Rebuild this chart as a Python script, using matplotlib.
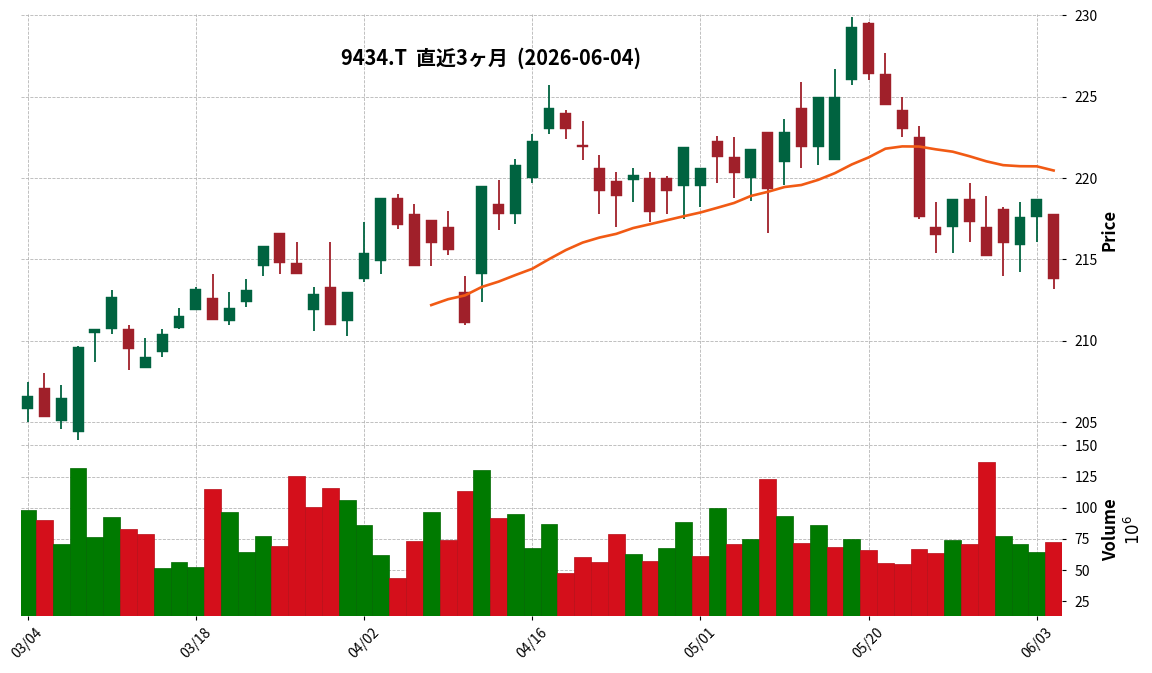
import numpy as np
import pandas as pd
import matplotlib
matplotlib.use('Agg')
import matplotlib.pyplot as plt
import warnings
warnings.filterwarnings('ignore')

plt.rcParams['font.family'] = ['Noto Sans CJK JP', 'DejaVu Sans']

# trading days (2026-03-04 .. 2026-06-04)
dates = ['03/04', '03/05', '03/06', '03/09', '03/10', '03/11', '03/12', '03/13', '03/16', '03/17',
         '03/18', '03/19', '03/23', '03/24', '03/25', '03/26', '03/27', '03/30', '03/31', '04/01',
         '04/02', '04/03', '04/06', '04/07', '04/08', '04/09', '04/10', '04/13', '04/14', '04/15',
         '04/16', '04/17', '04/20', '04/21', '04/22', '04/23', '04/24', '04/27', '04/28', '04/30',
         '05/01', '05/07', '05/08', '05/11', '05/12', '05/13', '05/14', '05/15', '05/18', '05/19',
         '05/20', '05/21', '05/22', '05/25', '05/26', '05/27', '05/28', '05/29', '06/01', '06/02',
         '06/03', '06/04']

opens = [205.8, 207.1, 205.1, 204.4, 210.5, 210.7, 210.7, 208.3, 209.3, 210.8,
         211.9, 212.6, 211.2, 212.4, 214.6, 216.6, 214.8, 211.9, 213.3, 211.2,
         213.8, 214.9, 218.8, 217.8, 217.4, 217.0, 213.0, 214.1, 218.4, 217.8,
         220.0, 223.0, 224.0, 222.0, 220.6, 219.8, 219.9, 220.0, 220.0, 219.5,
         219.5, 222.3, 221.3, 220.0, 222.8, 221.0, 224.3, 221.9, 221.1, 226.0,
         229.5, 226.4, 224.2, 222.5, 217.0, 217.0, 218.7, 217.0, 218.1, 215.9,
         217.6, 217.8]
highs = [207.5, 208.0, 207.3, 209.7, 210.7, 213.1, 211.0, 210.2, 210.7, 212.0,
         213.3, 214.1, 213.0, 213.8, 215.8, 216.6, 216.1, 213.3, 216.1, 213.0,
         217.3, 218.8, 219.0, 218.4, 217.4, 218.0, 214.0, 219.5, 219.9, 221.2,
         222.7, 225.7, 224.2, 223.5, 221.4, 220.4, 220.6, 220.4, 220.1, 221.9,
         220.6, 222.6, 222.5, 221.8, 222.8, 223.6, 225.9, 225.0, 226.7, 229.9,
         229.6, 227.7, 225.0, 223.2, 218.5, 218.7, 219.7, 218.9, 218.2, 218.5,
         218.7, 217.8]
lows = [205.0, 205.3, 204.6, 203.9, 208.7, 210.4, 208.2, 208.3, 209.0, 210.7,
        211.9, 211.3, 211.0, 212.1, 214.0, 214.1, 214.1, 210.6, 211.0, 210.3,
        213.6, 214.1, 216.9, 214.6, 214.6, 215.3, 211.0, 212.4, 216.8, 217.2,
        219.7, 222.7, 222.4, 221.1, 217.8, 217.0, 218.5, 217.3, 217.8, 217.5,
        218.2, 219.7, 218.8, 218.6, 216.6, 219.6, 220.6, 220.8, 221.1, 225.7,
        226.0, 224.5, 222.5, 217.5, 215.4, 215.4, 216.1, 215.2, 214.0, 214.2,
        216.1, 213.2]
closes = [206.6, 205.3, 206.5, 209.6, 210.7, 212.7, 209.5, 209.0, 210.4, 211.5,
          213.2, 211.3, 212.0, 213.1, 215.8, 214.8, 214.1, 212.9, 211.0, 213.0,
          215.4, 218.8, 217.1, 214.6, 216.0, 215.6, 211.1, 219.5, 217.8, 220.8,
          222.3, 224.3, 223.0, 221.9, 219.2, 218.9, 220.2, 217.9, 219.2, 221.9,
          220.6, 221.3, 220.3, 221.8, 219.3, 222.8, 221.9, 225.0, 225.0, 229.3,
          226.4, 224.5, 223.0, 217.6, 216.5, 218.7, 217.3, 215.2, 216.0, 217.6,
          218.7, 213.8]
# volume in millions of shares
volumes = [98.5, 89.8, 70.7, 132.0, 76.3, 92.2, 82.6, 78.6, 51.6, 56.4,
           52.4, 115.3, 96.2, 64.3, 77.1, 69.1, 125.6, 100.9, 116.0, 106.5,
           85.8, 61.9, 43.6, 73.1, 96.9, 73.9, 113.7, 130.4, 91.4, 94.6,
           67.5, 86.6, 47.6, 60.3, 56.4, 78.6, 62.7, 57.2, 67.5, 88.2,
           61.1, 100.1, 70.7, 74.7, 123.2, 93.0, 71.5, 85.8, 68.3, 74.7,
           65.9, 55.6, 54.8, 66.7, 63.5, 73.9, 70.7, 136.7, 77.1, 70.7,
           64.3, 72.3]

df = pd.DataFrame({'Open': opens, 'High': highs, 'Low': lows, 'Close': closes, 'Volume': volumes})
df['MA25'] = df['Close'].rolling(25).mean()
x = np.arange(len(df))

up_c, dn_c = '#006340', '#a0202a'
vup_c, vdn_c = '#007a00', '#d40f1b'
grid_kw = dict(color='#b5b5b5', linestyle='--', linewidth=0.6)

fig = plt.figure(figsize=(11.52, 6.73), dpi=100)
axp = fig.add_axes([0.0184, 0.3388, 0.9035, 0.6397])
axv = fig.add_axes([0.0184, 0.0847, 0.9035, 0.2541], sharex=axp)

# candles
up = df['Close'] >= df['Open']
ccol = np.where(up, up_c, dn_c)
axp.vlines(x, df['Low'], df['High'], colors=ccol, linewidth=1.3, zorder=2)
body_lo = np.minimum(df['Open'], df['Close'])
body_h = np.maximum((df['Close'] - df['Open']).abs(), 0.06)
axp.bar(x, body_h, bottom=body_lo, width=0.65, color=ccol, edgecolor=ccol, linewidth=0.3, zorder=3)
axp.plot(x, df['MA25'], color='#f15a14', linewidth=1.9, zorder=4)

# volume, coloured by close vs previous close
prev = df['Close'].shift(1)
vup = (df['Close'] > prev)
vup.iloc[0] = df['Close'].iloc[0] > df['Open'].iloc[0]
vcol = np.where(vup, vup_c, vdn_c)
vedge = np.where(vup, '#006800', '#b80d17')
axv.bar(x, df['Volume'], width=1.0, color=vcol, edgecolor=vedge, linewidth=0.5, zorder=2)

axp.set_ylim(203.6, 230.05)
axv.set_ylim(0.3 * df['Volume'].min(), 1.1 * df['Volume'].max())
axp.set_xlim(-0.38, len(df) - 0.5)

ticks = list(range(0, len(df), 10))
axv.set_xticks(ticks)
axv.set_xticklabels([dates[i] for i in ticks], rotation=45, ha='center', fontsize=10)
axp.set_yticks([205, 210, 215, 220, 225, 230])
axv.set_yticks([25, 50, 75, 100, 125, 150])

for ax in (axp, axv):
    for s in ax.spines.values():
        s.set_visible(False)
    ax.yaxis.tick_right()
    ax.tick_params(axis='y', labelsize=10, length=3, pad=6, width=0.8)
    ax.grid(True, **grid_kw)
    ax.set_axisbelow(True)
axp.tick_params(axis='x', bottom=False, labelbottom=False)
axv.tick_params(axis='x', length=3, width=0.8, pad=4)

fig.text(491 / 1152, 1 - 58 / 673, '9434.T  直近3ヶ月  (2026-06-04)', fontsize=14.4, fontweight='bold',
         ha='center', va='center')
fig.text(1110 / 1152, 1 - 230 / 673, 'Price', rotation=90, fontsize=12, fontweight='bold',
         ha='center', va='center')
fig.text(1123 / 1152, 1 - 530 / 673, 'Volume\n$10^{6}$', rotation=90, fontsize=12, fontweight='bold',
         ha='center', va='center', multialignment='center')


def main():
    plt.savefig('out.png', dpi=100)


if __name__ == "__main__":
    main()
